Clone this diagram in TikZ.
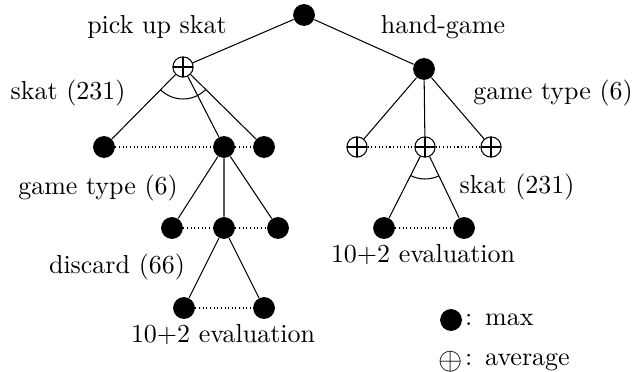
\documentclass[tikz,border=0pt]{standalone}
\usepackage{amsmath}
\usepackage{tikz}
\usetikzlibrary{positioning, angles}
\tikzset{
x=0.385pt, y=0.385pt, % one unit is one pixel of the layout
line width=0.45pt, % edges a bit heavier than thin
maxnode/.style={circle, fill, inner sep=0pt, minimum size=8.4pt}, % max node, filled disc
avgnode/.style={circle, draw, fill=white, inner sep=0pt, minimum size=7.8pt,
  path picture={\draw[line width=0.7pt] (path picture bounding box.north) -- (path picture bounding box.south)
  (path picture bounding box.west) -- (path picture bounding box.east);}}, % average node, circle with a cross
sib/.style={densely dotted, line width=0.4pt}, % links the nodes of one level
}

\begin{document}
\begin{tikzpicture}
    \useasboundingbox (0,0) rectangle (634,-372);

            \node[maxnode] (root) at (304,-15) {};
            \node[avgnode] (pick) at (183,-67) {};
            \node[maxnode] (hand) at (424,-69) {};
            % pick up skat
            \node[maxnode] (s1) at (104,-147) {};
            \node[maxnode] (s2) at (224,-147) {};
            \node[maxnode] (s3) at (264,-147) {};
            \node[maxnode] (g1) at (172,-228) {};
            \node[maxnode] (g2) at (224,-228) {};
            \node[maxnode] (g3) at (278,-228) {};
            \node[maxnode] (d1) at (184,-308) {};
            \node[maxnode] (d2) at (264,-308) {};
            % hand-game
            \node[avgnode] (h1) at (357,-147) {};
            \node[avgnode] (h2) at (425,-147) {};
            \node[avgnode] (h3) at (491,-147) {};
            \node[maxnode] (k1) at (384,-228) {};
            \node[maxnode] (k2) at (464,-228) {};

            \draw   (root) -- (pick)
                    (root) -- (hand)
                    (pick) -- (s1)
                    (pick) -- (s2)
                    (pick) -- (s3)
                    (s2) -- (g1)
                    (s2) -- (g2)
                    (s2) -- (g3)
                    (g2) -- (d1)
                    (g2) -- (d2)
                    (hand) -- (h1)
                    (hand) -- (h2)
                    (hand) -- (h3)
                    (h2) -- (k1)
                    (h2) -- (k2);
            \draw[sib] (s1) -- (s2) (s2) -- (s3)
                       (g1) -- (g2) (g2) -- (g3)
                       (d1) -- (d2)
                       (h1) -- (h2) (h2) -- (h3)
                       (k1) -- (k2);
            \pic[draw, angle radius=32pt*0.385] {angle = s1--pick--s3};
            \pic[draw, angle radius=32pt*0.385] {angle = k1--h2--k2};

            \node at (157,-27) {pick up skat};
            \node at (443,-27) {hand-game};
            \node at (68,-93) {skat (231)};
            \node at (553,-93) {game type (6)};
            \node at (98,-188) {game type (6)};
            \node at (517,-187) {skat (231)};
            \node at (117,-267) {discard (66)};
            \node at (223,-335) {10+2 evaluation};
            \node at (423,-255) {10+2 evaluation};

            % legend
            \node[maxnode] (lmax) at (451,-320) {};
            \node[inner sep=0pt] (lavg) at (451,-362) {\large$\oplus$};
            \node[anchor=west, inner sep=0.8pt] at (lmax.east) {:\enskip max};
            \node[anchor=west, inner sep=0.8pt] at (lmax.east |- lavg) {:\enskip average};
        \end{tikzpicture}
\end{document}
